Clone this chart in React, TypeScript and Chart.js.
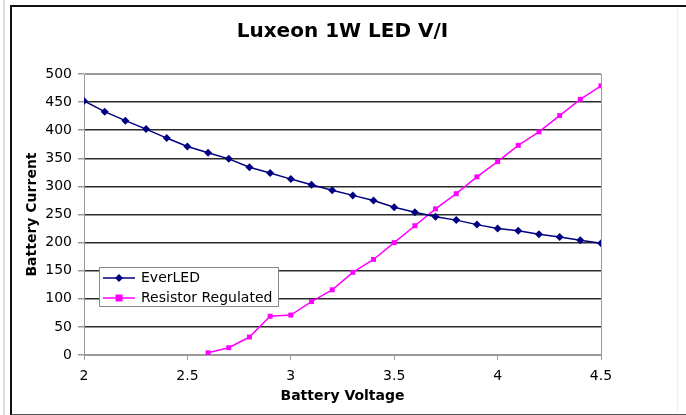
import React, { useEffect, useRef } from "react";
import { Chart, registerables } from "chart.js";

Chart.register(...registerables);

const chartTitle = "Luxeon 1W LED V/I";
const xAxisTitle = "Battery Voltage";
const yAxisTitle = "Battery Current";
const seriesNames = ["EverLED", "Resistor Regulated"];

const voltages = [2.0, 2.1, 2.2, 2.3, 2.4, 2.5, 2.6, 2.7, 2.8, 2.9, 3.0, 3.1, 3.2, 3.3, 3.4, 3.5, 3.6, 3.7, 3.8, 3.9, 4.0, 4.1, 4.2, 4.3, 4.4, 4.5];
const everLED = [452, 433, 417, 402, 386, 371, 360, 349, 334, 324, 313, 303, 293, 284, 275, 263, 254, 246, 240, 232, 225, 221, 215, 210, 204, 199];
const resistorRegulated = [null, null, null, null, null, null, 4, 13, 32, 69, 71, 95, 116, 147, 170, 200, 230, 260, 287, 317, 344, 373, 397, 426, 455, 479];

const xMin = 2;
const xMax = 4.5;
const xStep = 0.5;
const yMin = 0;
const yMax = 500;
const yStep = 50;

const NAVY = "#000080";
const MAGENTA = "#ff00ff";
const FONT = "'DejaVu Sans', Verdana, sans-serif";

const toPoints = (ys: (number | null)[]) =>
  voltages
    .map((x, i) => ({ x, y: ys[i] }))
    .filter((p) => p.y !== null && p.y !== undefined);

const plotBorder = {
  id: "plotBorder",
  beforeDatasetsDraw(chart: any) {
    const { ctx, chartArea } = chart;
    ctx.save();
    ctx.strokeStyle = "#9a9a9a";
    ctx.lineWidth = 1;
    ctx.strokeRect(
      Math.round(chartArea.left) + 0.5,
      Math.round(chartArea.top) + 0.5,
      Math.round(chartArea.right - chartArea.left),
      Math.round(chartArea.bottom - chartArea.top)
    );
    ctx.restore();
  },
};

const insetLegend = {
  id: "insetLegend",
  afterDatasetsDraw(chart: any) {
    const { ctx, chartArea } = chart;
    const left = chartArea.left + 15;
    const top = chartArea.top + 193;
    const w = 179;
    const h = 39;
    ctx.save();
    ctx.fillStyle = "#ffffff";
    ctx.fillRect(left, top, w, h);
    ctx.strokeStyle = "#8a8a8a";
    ctx.lineWidth = 1;
    ctx.strokeRect(left + 0.5, top + 0.5, w, h);
    ctx.font = `14px ${FONT}`;
    ctx.textBaseline = "middle";
    ctx.textAlign = "left";
    chart.data.datasets.forEach((ds: any, i: number) => {
      const y = top + 11 + i * 20;
      ctx.strokeStyle = ds.borderColor;
      ctx.lineWidth = 1.5;
      ctx.beginPath();
      ctx.moveTo(left + 4, y);
      ctx.lineTo(left + 36, y);
      ctx.stroke();
      ctx.fillStyle = ds.pointBackgroundColor;
      const cx = left + 20;
      if (ds.pointStyle === "rectRot") {
        ctx.beginPath();
        ctx.moveTo(cx, y - 4);
        ctx.lineTo(cx + 4, y);
        ctx.lineTo(cx, y + 4);
        ctx.lineTo(cx - 4, y);
        ctx.closePath();
        ctx.fill();
      } else {
        ctx.fillRect(cx - 3.5, y - 3.5, 7, 7);
      }
      ctx.fillStyle = "#000000";
      ctx.fillText(ds.label, left + 42, y + 0.5);
    });
    ctx.restore();
  },
};

export default function App() {
  const canvasRef = useRef<HTMLCanvasElement | null>(null);

  useEffect(() => {
    if (!canvasRef.current) return;
    const chart = new Chart(canvasRef.current, {
      type: "line",
      data: {
        datasets: [
          {
            label: seriesNames[0],
            data: toPoints(everLED) as any,
            borderColor: NAVY,
            backgroundColor: NAVY,
            pointBackgroundColor: NAVY,
            pointBorderColor: NAVY,
            pointStyle: "rectRot",
            pointRadius: 4,
            pointBorderWidth: 0,
            borderWidth: 1.5,
            tension: 0,
          },
          {
            label: seriesNames[1],
            data: toPoints(resistorRegulated) as any,
            borderColor: MAGENTA,
            backgroundColor: MAGENTA,
            pointBackgroundColor: MAGENTA,
            pointBorderColor: MAGENTA,
            pointStyle: "rect",
            pointRadius: 3.5,
            pointBorderWidth: 0,
            borderWidth: 1.5,
            tension: 0,
          },
        ],
      },
      options: {
        animation: false,
        responsive: false,
        maintainAspectRatio: false,
        layout: { padding: { top: 0, left: 20, right: 85, bottom: 5 } },
        plugins: {
          legend: { display: false },
          tooltip: { enabled: false },
          title: {
            display: true,
            text: chartTitle,
            fullSize: false,
            color: "#000",
            font: { family: FONT, size: 20, weight: "bold" },
            padding: { top: 19.5, bottom: 30.5 },
          },
        },
        scales: {
          x: {
            type: "linear",
            min: xMin,
            max: xMax,
            afterFit(scale: any) {
              scale.height = 55;
            },
            ticks: {
              stepSize: xStep,
              color: "#000",
              font: { family: FONT, size: 14 },
              padding: 8,
              maxRotation: 0,
              callback: (v: any) => `${Number(v)}`,
            },
            grid: {
              drawOnChartArea: false,
              drawTicks: true,
              tickLength: 5,
              color: "#9a9a9a",
            },
            border: { display: true, color: "#9a9a9a" },
            title: {
              display: true,
              text: xAxisTitle,
              color: "#000",
              font: { family: FONT, size: 14, weight: "bold" },
              padding: { top: 2, bottom: 5 },
            },
          },
          y: {
            type: "linear",
            min: yMin,
            max: yMax,
            afterFit(scale: any) {
              scale.width = 64;
            },
            ticks: {
              stepSize: yStep,
              color: "#000",
              font: { family: FONT, size: 14 },
              padding: 6,
            },
            grid: {
              drawTicks: true,
              tickLength: 6,
              lineWidth: 1.5,
              color: (ctx: any) =>
                ctx.tick && (ctx.tick.value === yMin || ctx.tick.value === yMax)
                  ? "#9a9a9a"
                  : "#2a2a2a",
              tickColor: "#9a9a9a",
            },
            border: { display: true, color: "#9a9a9a" },
            title: {
              display: true,
              text: yAxisTitle,
              color: "#000",
              font: { family: FONT, size: 14, weight: "bold" },
              padding: { top: 4, bottom: 4 },
            },
          },
        },
      },
      plugins: [plotBorder, insetLegend],
    });
    return () => chart.destroy();
  }, []);

  return (
    <div
      style={{
        position: "fixed",
        left: 0,
        top: 0,
        width: 686,
        height: 415,
        background: "#ffffff",
        overflow: "hidden",
      }}
    >
      <div style={{ position: "absolute", left: 3, top: 0, width: 2, height: 415, background: "#dcdcdc" }} />
      <div
        style={{
          position: "absolute",
          left: 10,
          top: 5,
          width: 686,
          height: 407,
          borderLeft: "2px solid #111",
          borderTop: "2px solid #111",
          borderBottom: "2px solid #555",
        }}
      />
      <div style={{ position: "absolute", left: 677, top: 8, width: 1, height: 404, background: "#eeeeee" }} />
      <canvas
        ref={canvasRef}
        width={686}
        height={415}
        style={{ position: "absolute", left: 0, top: 0, width: 686, height: 415 }}
      />
    </div>
  );
}
